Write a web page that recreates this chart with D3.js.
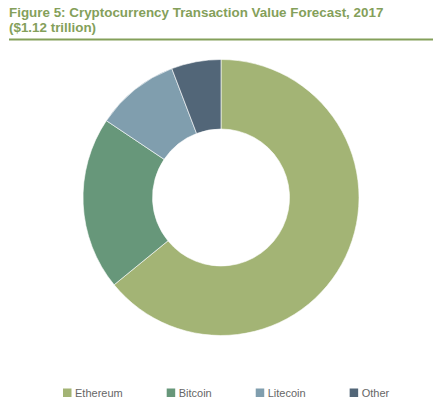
<!DOCTYPE html>
<html>
<head>
<meta charset="utf-8">
<script src="https://cdn.jsdelivr.net/npm/d3@7"></script>
<style>
  html, body { margin: 0; padding: 0; background: #fff; }
  svg { display: block; }
</style>
</head>
<body>
<svg id="chart" width="444" height="411"></svg>
<script>
const titleLines = ["Figure 5: Cryptocurrency Transaction Value Forecast, 2017", "($1.12 trillion)"];
const categories = ["Ethereum", "Bitcoin", "Litecoin", "Other"];
const values = [64.1, 20.3, 9.8, 5.8];
const colors = ["#a3b475", "#67977a", "#809eae", "#526678"];

const svg = d3.select("#chart");

// Title
const title = svg.append("text")
  .attr("x", 9).attr("y", 16.8)
  .attr("font-family", "Liberation Sans, Arial, sans-serif")
  .attr("font-weight", "bold").attr("font-size", 13.4)
  .attr("fill", "#84a05a");
title.selectAll("tspan").data(titleLines).join("tspan")
  .attr("x", 9).attr("dy", (d, i) => i === 0 ? 0 : 15)
  .text(d => d);

svg.append("line")
  .attr("x1", 9).attr("x2", 433).attr("y1", 39.5).attr("y2", 39.5)
  .attr("stroke", "#84a05a").attr("stroke-width", 2.2);

// Donut
const cx = 221, cy = 197.5, rOuter = 138, rInner = 68.5;
const data = categories.map((c, i) => ({ cat: c, value: values[i], color: colors[i] }));
const pie = d3.pie().value(d => d.value).sort(null);
const arc = d3.arc().innerRadius(rInner).outerRadius(rOuter);
const g = svg.append("g").attr("transform", `translate(${cx},${cy})`);
g.selectAll("path").data(pie(data)).join("path")
  .attr("d", arc)
  .attr("fill", d => d.data.color)
  .attr("stroke", "#fff").attr("stroke-width", 0.6);

// Legend
const legend = svg.append("g").attr("font-family", "Liberation Sans, Arial, sans-serif").attr("font-size", 11);
let x = 63;
const gap = 44;
data.forEach(d => {
  legend.append("rect").attr("x", x).attr("y", 388.5).attr("width", 8.5).attr("height", 8.5).attr("fill", d.color);
  const t = legend.append("text").attr("x", x + 12).attr("y", 397).attr("fill", "#666").text(d.cat);
  x += 12 + t.node().getComputedTextLength() + gap;
});
</script>
</body>
</html>
